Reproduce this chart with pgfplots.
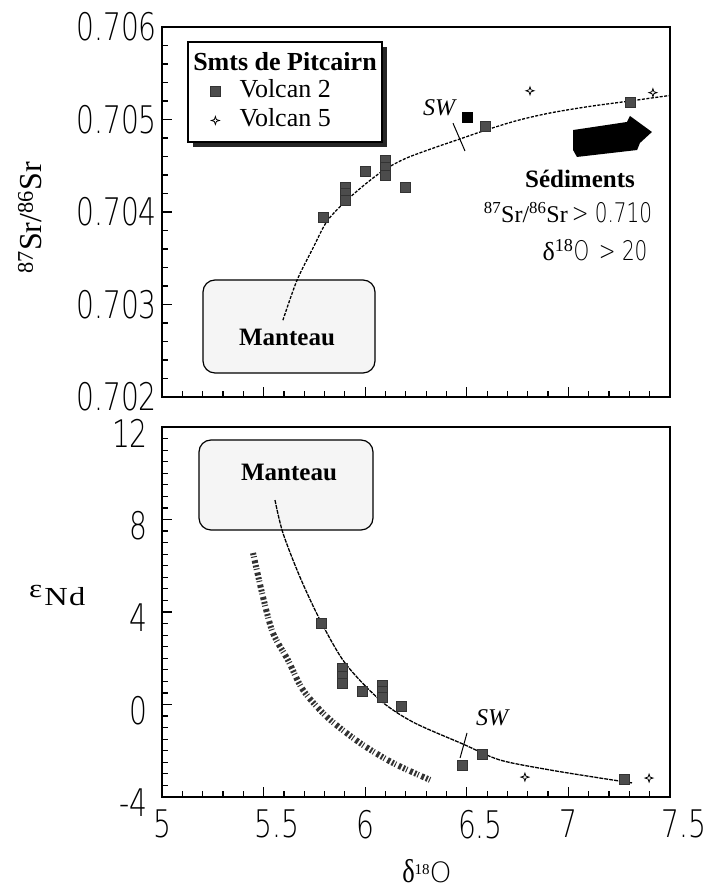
\documentclass[border=0pt]{standalone}
\usepackage{pgfplots}
\pgfplotsset{compat=1.18}
\usepackage{fontspec}
\setmainfont{Liberation Serif}
\IfFontExistsTF{DejaVu Sans ExtraLight}
  {\newfontfamily\ticfont{DejaVu Sans ExtraLight}\def\tkx{0.74}}
  {\newfontfamily\ticfont{Liberation Sans}\def\tkx{0.83}}
\usetikzlibrary{shadows}

% thin, narrow tick numbers
\newcommand\tk[1]{\scalebox{\tkx}[1]{\fontsize{38}{38}\selectfont\ticfont #1}}
\newcommand\tks[1]{\scalebox{\tkx}[1]{\fontsize{27}{27}\selectfont\ticfont #1}}

% four-pointed star for Volcan 5
\pgfdeclareplotmark{sparkle}{%
  \pgfpathmoveto{\pgfqpoint{0pt}{\pgfplotmarksize}}%
  \pgfpathlineto{\pgfqpoint{0.25\pgfplotmarksize}{0.25\pgfplotmarksize}}%
  \pgfpathlineto{\pgfqpoint{\pgfplotmarksize}{0pt}}%
  \pgfpathlineto{\pgfqpoint{0.25\pgfplotmarksize}{-0.25\pgfplotmarksize}}%
  \pgfpathlineto{\pgfqpoint{0pt}{-\pgfplotmarksize}}%
  \pgfpathlineto{\pgfqpoint{-0.25\pgfplotmarksize}{-0.25\pgfplotmarksize}}%
  \pgfpathlineto{\pgfqpoint{-\pgfplotmarksize}{0pt}}%
  \pgfpathlineto{\pgfqpoint{-0.25\pgfplotmarksize}{0.25\pgfplotmarksize}}%
  \pgfpathclose\pgfusepathqstroke}

\pgfplotsset{
  panel/.style={
    scale only axis, width=508pt, height=370pt,
    xmin=5, xmax=7.5, xtick={5,5.5,6,6.5,7,7.5}, minor x tick num=4,
    tick pos=left, tick align=inside,
    major tick length=10pt, minor tick length=6pt,
    axis line style={line width=1.5pt},
    every tick/.append style={black, line width=1.2pt},
    every minor tick/.append style={black, line width=1.2pt},
    /pgf/number format/assume math mode=true,
    yticklabel style={anchor=east, inner sep=0pt},
    xticklabel style={anchor=north west, inner sep=0pt, xshift=-9pt, yshift=-13pt},
  },
  markimg/.style={legend image code/.code={%
    \draw[##1] plot coordinates {(10pt,0pt)}; \path (0pt,0pt) (20pt,0pt);}},
  v2/.style={only marks, mark=square*, mark size=5pt,
    mark options={fill=black!70, draw=black!80, line width=0.6pt}, markimg},
  v5/.style={only marks, mark=sparkle, mark size=4pt,
    mark options={draw=black, line width=0.8pt}, markimg},
  limb/.style={black, line width=1.3pt, dash pattern=on 3pt off 1.5pt, forget plot},
}

\begin{document}
\begin{tikzpicture}[x=1pt,y=1pt]
\path[use as bounding box] (0,0) rectangle (710,890);

% mantle boxes and legend frame, behind the curves
\draw[line width=1.2pt, rounded corners=12pt, fill=black!4] (203,517) rectangle (375,610);
\draw[line width=1.2pt, rounded corners=12pt, fill=black!4] (199,360) rectangle (373,450);
\draw[line width=1.4pt, fill=white,
  drop shadow={shadow xshift=5pt, shadow yshift=-5pt, fill=black!85, opacity=1}]
  (188,748) rectangle (382,848);

% ---------- 87Sr/86Sr vs d18O ----------
\begin{axis}[panel, at={(162pt,493pt)}, anchor=south west,
  ymin=0.702, ymax=0.706, ytick={0.702,0.703,0.704,0.705,0.706},
  minor y tick num=4,
  yticklabels={\tk{0.702},\tk{0.703},\tk{0.704},\tk{0.705},\tk{0.706}},
  yticklabel style={xshift=-5pt},
  xticklabels={},
  legend style={at={(0.0846,0.7865)}, anchor=west, draw=none, fill=none,
    inner sep=0pt, row sep=5pt, column sep=14pt,
    nodes={inner sep=0pt, text height=18pt, text depth=6pt},
    font=\fontsize{26}{26}\selectfont, cells={anchor=west}},
]
\addplot[v2]
  coordinates {(5.792,0.70394) (5.901,0.70427) (5.901,0.70420) (5.901,0.70413)
    (5.999,0.70444) (6.097,0.70456) (6.097,0.70448) (6.097,0.70440)
    (6.196,0.70427) (6.590,0.70493) (7.303,0.70519)};
\addlegendentry{Volcan 2}
\addplot[v5]
  coordinates {(6.811,0.70531) (7.416,0.70529)};
\addlegendentry{Volcan 5}
\addplot[only marks, mark=square*, mark size=5pt, mark options={fill=black, draw=black}, forget plot]
  coordinates {(6.501,0.70502)};
% mixing curve, mantle to sediments
\addplot[limb, smooth, tension=0.5] coordinates {
  (5.595,0.70283) (5.664,0.70326) (5.743,0.70361) (5.812,0.70390)
  (5.901,0.70411) (6.000,0.70430) (6.097,0.70446) (6.200,0.70458)
  (6.334,0.70469) (6.467,0.70479) (6.600,0.70489) (6.750,0.70499)
  (6.909,0.70507) (7.100,0.70514) (7.303,0.70520) (7.500,0.70526)};
% seawater mark on the curve
\addplot[black, line width=1pt, forget plot] coordinates {(6.432,0.70496) (6.491,0.70466)};
% sediment end-member arrow
\fill[black] (axis cs:7.023,0.704886) -- (axis cs:7.288,0.704973) -- (axis cs:7.303,0.705038)
  -- (axis cs:7.411,0.704865) -- (axis cs:7.352,0.704746) -- (axis cs:7.338,0.704670)
  -- (axis cs:7.042,0.704595) -- (axis cs:7.023,0.704670) -- cycle;
\end{axis}

% ---------- eNd vs d18O ----------
\begin{axis}[panel, at={(162pt,93pt)}, anchor=south west,
  ymin=-4, ymax=12, ytick={-4,0,4,8,12}, minor y tick num=7,
  yticklabels={\tk{-4},\tk{0},\tk{4},\tk{8},\tk{12}},
  yticklabel style={xshift=-14pt, yshift=-6pt},
  xticklabels={\tk{5},\tk{5.5},\tk{6},\tk{6.5},\tk{7},\tk{7.5}},
]
\addplot[v2] coordinates {(5.782,3.52) (5.886,1.58) (5.886,1.23) (5.886,0.93)
  (5.984,0.58) (6.083,0.84) (6.083,0.58) (6.083,0.32) (6.176,-0.06)
  (6.476,-2.62) (6.575,-2.14) (7.274,-3.22)};
\addplot[v5] coordinates {(6.786,-3.14) (7.397,-3.18)};
% mixing curve
\addplot[black, line width=1.3pt, dash pattern=on 4pt off 1pt, smooth] coordinates {
  (5.556,8.84) (5.595,7.42) (5.679,5.51) (5.778,3.65) (5.901,1.79)
  (6.073,0.19) (6.235,-0.76) (6.481,-1.71) (6.663,-2.40) (6.909,-2.83)
  (7.156,-3.18) (7.313,-3.39)};
% second mixing path
\addplot[black!80, line width=6pt, smooth,
  dash pattern=on 2pt off 1.5pt on 1pt off 3pt on 3pt off 2pt] coordinates {
  (5.448,6.55) (5.497,4.65) (5.546,3.09) (5.620,1.92) (5.694,0.63)
  (5.812,-0.54) (5.974,-1.66) (6.137,-2.53) (6.319,-3.26)};
\addplot[black, line width=1pt] coordinates {(6.501,-1.23) (6.467,-2.31)};
\end{axis}

% legend title
\node[font=\fontsize{26}{26}\selectfont\bfseries] at (285,828) {Smts de Pitcairn};
% mantle labels
\node[font=\fontsize{25}{25}\selectfont\bfseries] at (287,553) {Manteau};
\node[font=\fontsize{25}{25}\selectfont\bfseries] at (289,418) {Manteau};
% seawater labels
\node[font=\fontsize{24}{24}\selectfont\itshape] at (439,782) {SW};
\node[font=\fontsize{24}{24}\selectfont\itshape] at (492,172) {SW};
% sediment end-member
\node[font=\fontsize{25}{25}\selectfont\bfseries] at (580,711) {Sédiments};
\node[font=\fontsize{24}{24}\selectfont] at (568,677)
  {\textsuperscript{87}Sr/\textsuperscript{86}Sr\,\tks{> 0.710}};
\node[font=\fontsize{26}{26}\selectfont] at (595,640)
  {δ\textsuperscript{18}\tks{O\, > 20}};

% axis titles
\node[rotate=90, font=\fontsize{32}{32}\selectfont] at (30,672)
  {\textsuperscript{87}Sr/\textsuperscript{86}Sr};
\node[anchor=west, inner sep=0pt, font=\fontsize{26}{26}\selectfont] at (29,294)
  {\scalebox{1.2}[1]{ε}\hspace{2pt}\raisebox{-8pt}{\scalebox{1.25}[1]{N\hspace{1pt}d}}};
\node[anchor=base, inner sep=0pt] at (427,7)
  {\fontsize{33}{33}\selectfont\scalebox{0.8}[1]{δ}\raisebox{9pt}{\fontsize{15}{15}\selectfont 18}{\fontsize{28}{28}\selectfont\ticfont O}};
\end{tikzpicture}
\end{document}
